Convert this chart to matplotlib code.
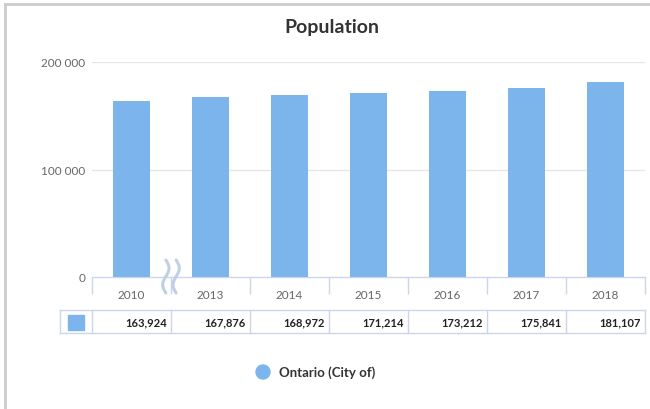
import numpy as np
import matplotlib
matplotlib.use("Agg")
import matplotlib.pyplot as plt
import matplotlib.transforms as mtransforms

plt.rcParams['font.family'] = ['Lato', 'DejaVu Sans']

years = ['2010', '2013', '2014', '2015', '2016', '2017', '2018']
population = [163924, 167876, 168972, 171214, 173212, 175841, 181107]
y_ticks = [0, 100000, 200000]
series_name = 'Ontario (City of)'

BAR = '#7cb5ec'
LINE = '#ccd6eb'
W, H = 650, 410


def fy(px):
    # pixel row from top -> figure fraction
    return 1 - px / H


fig = plt.figure(figsize=(6.5, 4.1), dpi=100)
ax = fig.add_axes([92 / W, fy(278), (645 - 92) / W, (278 - 63) / H])

x = np.arange(len(years))
ax.bar(x, population, width=0.48, color=BAR, zorder=3)
ax.set_xlim(-0.5, len(years) - 0.5)
ax.set_ylim(0, 200000)
ax.set_yticks(y_ticks)
ax.set_yticklabels([f'{v:,}'.replace(',', ' ') for v in y_ticks])
ax.tick_params(axis='y', length=0, pad=5, labelsize=8.5, labelcolor='#666666')
for v in y_ticks[1:]:
    ax.axhline(v, color='#e6e6e6', lw=1, zorder=1)
for s in ['top', 'right', 'left']:
    ax.spines[s].set_visible(False)
ax.spines['bottom'].set_color(LINE)
ax.spines['bottom'].set_linewidth(1)

# category ticks between bars, labels centered
ax.set_xticks(np.arange(-0.5, len(years)), minor=False)
ax.set_xticklabels([])
ax.tick_params(axis='x', length=12, color=LINE, width=1, direction='out')
for i, yr in enumerate(years):
    ax.text(i, fy(296), yr, transform=mtransforms.blended_transform_factory(
        ax.transData, fig.transFigure), ha='center', va='center',
        fontsize=8.5, color='#666666', clip_on=False)

# axis break marks between 2010 and 2013
t = np.linspace(0, 1, 60)
bt = mtransforms.blended_transform_factory(ax.transData, fig.transFigure)
for dx in (-0.065, 0.065):
    xs = 0.5 + dx + 0.04 * np.sin(t * 2 * np.pi)
    ys = fy(261) + (fy(294) - fy(261)) * t
    ax.plot(xs, ys, transform=bt, color='#c0d0e4', lw=2.2, clip_on=False,
            solid_capstyle='round', zorder=5)

# data table
top, bot = fy(311), fy(334)
left0 = -0.5 - 32 / 79
edges = [left0] + list(np.arange(-0.5, len(years)))
for xe in edges:
    ax.plot([xe, xe], [bot, top], transform=bt, color=LINE, lw=1, clip_on=False)
for yy in (top, bot):
    ax.plot([left0, len(years) - 0.5], [yy, yy], transform=bt, color=LINE,
            lw=1, clip_on=False)
ax.add_patch(plt.Rectangle(((left0 - 0.5) / 2 - 0.095, fy(331)), 0.19,
                           fy(316) - fy(331), transform=bt, color=BAR,
                           clip_on=False))
for i, v in enumerate(population):
    ax.text(i + 0.45, (top + bot) / 2, f'{v:,}', transform=bt, ha='right',
            va='center', fontsize=8, fontweight='bold', color='#222222')

# title
fig.text(332 / W, fy(28), 'Population', ha='center', va='center',
         fontsize=14, fontweight='bold', color='#333333')

# legend
fig.patches.append(plt.Circle((263, H - 373), 7, transform=None,
                              color=BAR))
fig.text(279 / W, fy(373), series_name, ha='left', va='center', fontsize=9.5,
         fontweight='bold', color='#333333')

# frame
fig.add_artist(plt.Line2D([5 / W, 5 / W], [0, fy(5)], color='#cccccc', lw=2))
fig.add_artist(plt.Line2D([5 / W, 1], [fy(5), fy(5)], color='#cccccc', lw=2))

fig.savefig('out.png', dpi=100)
